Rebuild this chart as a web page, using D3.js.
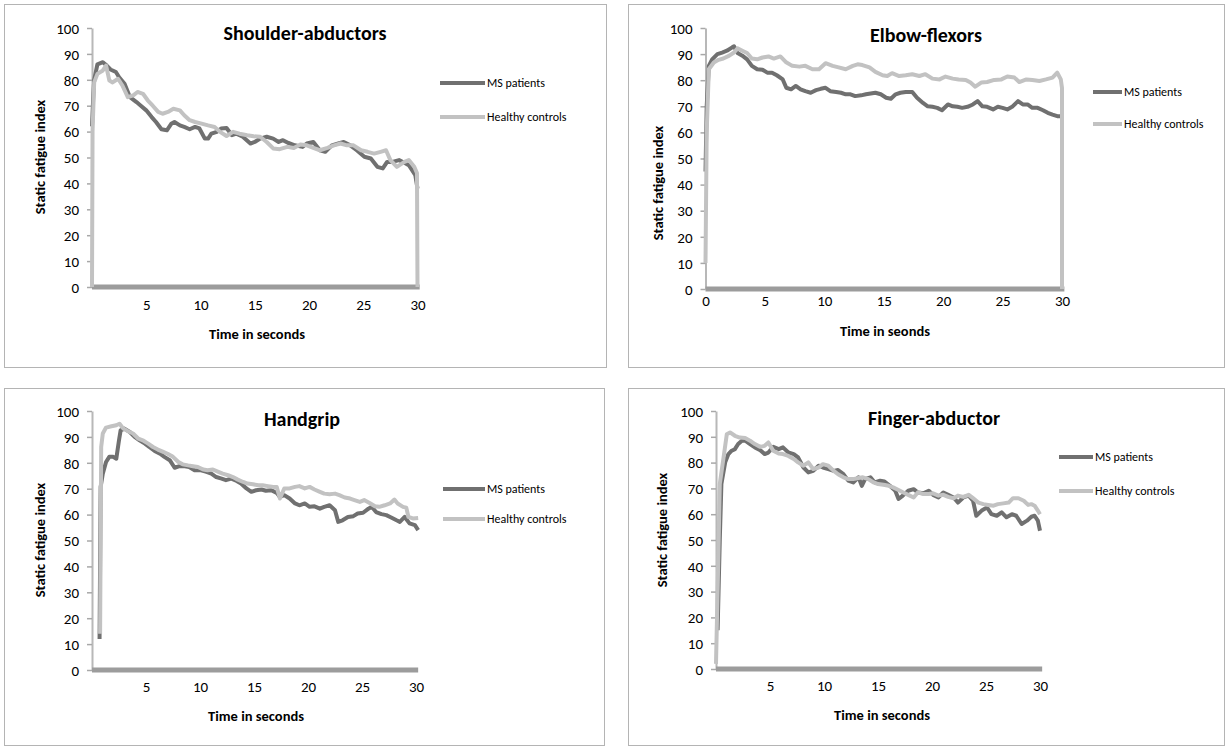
<!DOCTYPE html>
<html lang="en">
<head>
    <meta charset="UTF-8" />
    <title>Static fatigue index</title>
    <script src="https://cdn.jsdelivr.net/npm/d3@7"></script>
    <style>
        body { margin: 0; background: #ffffff; }
        text { font-family: Carlito, Calibri, "Open Sans", sans-serif; fill: #000; }
        .frame { fill: #ffffff; stroke: #b4b4b4; stroke-width: 1px; }
        .title { font-size: 20px; font-weight: bold; }
        .axis-title { font-size: 14.5px; font-weight: bold; }
        .tick text { font-size: 15px; }
        .legend text { font-size: 12px; }
        .yaxis path { stroke: #b8b8b8; stroke-width: 2px; }
        .yaxis line { stroke: #a8a8a8; stroke-width: 1.5px; }
        .series { fill: none; stroke-width: 4px; stroke-linejoin: round; }
    </style>
</head>
<body>
<svg id="chart" width="1226" height="747"></svg>
<script>
    // ---- data ----
    const seriesNames = ['MS patients', 'Healthy controls'];
    const seriesColors = ['#707070', '#c2c2c2'];
    const panelTitles = ['Shoulder-abductors', 'Elbow-flexors', 'Handgrip', 'Finger-abductor'];
    const xTitles = ['Time in seconds', 'Time in seonds', 'Time in seconds', 'Time in seconds'];
    const yTitle = 'Static fatigue index';
    const yTicks = [0, 10, 20, 30, 40, 50, 60, 70, 80, 90, 100];
    const xTicksNoZero = [5, 10, 15, 20, 25, 30];
    const xTicksZero = [0, 5, 10, 15, 20, 25, 30];

    const shoulderMS = [[0,62],[0.1,72],[0.2,80],[0.5,86],[1.0,86.8],[1.36,85.5],[1.7,84],[2.2,83],[2.5,81],[3.0,78.5],[3.5,73.3],[4.1,71.4],[4.5,70],[5.0,68.2],[5.5,65.6],[5.9,63.7],[6.4,60.9],[6.9,60.5],[7.3,63],[7.6,63.7],[8.1,62.4],[8.5,61.8],[9.0,60.9],[9.5,61.8],[9.9,61.2],[10.4,57.3],[10.7,57.3],[11.0,59.2],[11.5,59.9],[11.9,61.2],[12.4,61.4],[12.9,58.6],[13.3,59.2],[13.9,58],[14.6,55.4],[15.0,56],[15.5,57.3],[16.1,58],[16.7,57.3],[17.2,56],[17.6,56.7],[18.1,55.6],[18.7,54.7],[19.4,54.1],[19.8,55.4],[20.4,56],[21.0,52.8],[21.5,52.2],[22.1,54.7],[22.7,55.4],[23.2,56],[23.8,54.7],[24.4,52.8],[25.1,50.3],[25.7,49.6],[26.3,46.4],[26.8,45.8],[27.2,48.3],[27.7,48.3],[28.3,49],[28.8,48],[29.2,47],[29.5,45.1],[29.8,43.2],[30,38]];
    const shoulderHC = [[0,0],[0.05,60],[0.2,79],[0.5,82.3],[1.0,83.6],[1.3,85.5],[1.6,79.7],[1.9,79],[2.4,80.4],[2.8,77.8],[3.3,73.3],[3.8,74],[4.2,75.3],[4.7,74.6],[5.15,72],[5.6,70],[6.1,67.6],[6.5,66.9],[7.0,67.6],[7.5,68.8],[8.1,68.2],[8.5,66.3],[9.0,64.4],[9.5,63.7],[10.1,63.1],[10.7,62.4],[11.3,61.8],[11.8,59.9],[12.4,58.3],[13.0,59.9],[13.6,59.2],[14.3,58.6],[14.9,58.2],[15.5,58],[16.1,56],[16.7,53.5],[17.3,53.2],[18.0,54.1],[18.6,53.7],[19.2,55],[19.8,54.7],[20.4,53.7],[21.0,52.8],[21.7,53.7],[22.3,54.7],[22.9,55.4],[23.5,54.7],[24.1,54.7],[24.8,52.8],[25.4,52.2],[26.0,51.5],[26.6,52.2],[27.1,52.8],[27.5,49],[28.1,46.4],[28.8,48.3],[29.2,49],[29.7,46.4],[29.95,44],[30,0]];

    const elbowMS = [[0,45],[0.1,70],[0.28,85.5],[0.56,88],[1.0,90],[1.4,90.6],[1.8,91.3],[2.25,92.6],[2.4,93],[2.7,90.4],[3.1,89.4],[3.5,88],[3.9,85.5],[4.35,84.2],[4.8,84],[5.2,82.9],[5.6,82.9],[6.0,81.9],[6.5,80.3],[6.8,77.1],[7.2,76.5],[7.6,77.8],[8.0,76.5],[8.4,75.8],[8.85,75.2],[9.3,76.2],[9.7,76.7],[10.1,77.1],[10.5,75.8],[11.0,75.5],[11.4,75.2],[11.8,74.6],[12.2,74.6],[12.6,73.9],[13.1,74.2],[13.5,74.6],[13.9,74.9],[14.3,75.2],[14.75,74.6],[15.2,73.3],[15.6,72.9],[16.0,74.6],[16.4,75.2],[16.85,75.5],[17.4,75.5],[17.8,73.3],[18.3,71.3],[18.7,70],[19.1,69.8],[19.5,69.4],[19.9,68.5],[20.4,70.7],[20.8,70],[21.2,69.8],[21.6,69.4],[22.05,69.8],[22.5,70.7],[22.9,72],[23.3,70],[23.7,69.8],[24.2,68.8],[24.6,69.8],[25.0,69.4],[25.4,68.8],[25.8,69.8],[26.3,72],[26.7,70.7],[27.1,70.7],[27.5,69.4],[27.95,69.4],[28.4,68.5],[28.8,67.5],[29.2,66.8],[29.6,66.2],[29.9,66.2],[30,66]];
    const elbowHC = [[0,10],[0.1,60],[0.28,84.2],[0.7,86.8],[1.1,87.8],[1.5,88.3],[2.0,89.4],[2.4,90.6],[2.7,92.2],[3.1,91.3],[3.5,90.4],[3.9,88.3],[4.35,88],[4.8,88.7],[5.3,89.1],[5.75,88.3],[6.3,89.1],[6.75,87],[7.3,85.5],[7.9,85.2],[8.4,85.5],[9.0,84.2],[9.55,84.2],[10.1,86.5],[10.7,85.5],[11.2,84.9],[11.8,84.2],[12.4,85.5],[12.8,86.1],[13.2,85.8],[13.8,84.9],[14.3,83.2],[14.9,81.9],[15.3,81.6],[15.7,82.7],[16.3,81.6],[16.85,81.9],[17.4,82.3],[18.0,81.6],[18.5,82.3],[19.1,80.6],[19.7,80.3],[20.2,81.4],[20.8,80.6],[21.3,80.3],[21.9,80.1],[22.3,79.1],[22.7,77.5],[23.2,79.1],[23.7,79.3],[24.3,80.1],[24.9,80.3],[25.4,81.4],[26.0,81],[26.4,79.3],[27.0,80.3],[27.5,80.1],[28.1,79.7],[28.65,80.3],[29.2,81],[29.6,82.9],[29.9,80.3],[30,77],[30,0]];

    const handgripMS = [[0.7,12],[0.8,70.7],[1.0,75.8],[1.3,80.3],[1.6,82.3],[1.95,82.3],[2.25,81.6],[2.5,88.7],[2.65,92.5],[3.0,93.2],[3.5,91.9],[3.95,90],[4.4,88.7],[4.9,87.4],[5.3,86.1],[5.8,84.6],[6.3,83.5],[6.7,82.3],[7.2,81],[7.65,78.1],[8.1,78.7],[8.6,78.7],[9.0,78.4],[9.5,77.1],[10.1,77.1],[10.6,76.5],[11.05,75.8],[11.5,74.5],[12.0,73.9],[12.4,73.3],[12.9,73.9],[13.4,73],[13.8,72],[14.3,70.1],[14.75,68.8],[15.2,69.4],[15.7,69.7],[16.1,69.2],[16.6,69.4],[17.1,68.4],[17.4,66.8],[17.8,67.5],[18.3,66.2],[18.8,64.3],[19.2,63.6],[19.7,64.3],[20.15,63],[20.6,63.2],[21.1,62.3],[21.5,63],[22.0,63.6],[22.5,61.7],[22.8,57.2],[23.2,57.8],[23.7,59.1],[24.2,59.4],[24.6,60.4],[25.1,60.7],[25.6,62.3],[25.9,63],[26.3,61],[26.8,60.2],[27.25,59.8],[27.7,58.9],[28.2,57.8],[28.5,57.2],[28.95,59.1],[29.4,56.6],[29.9,55.9],[30.2,54]];
    const handgripHC = [[0.75,14],[0.85,86.1],[1.0,91.3],[1.3,93.6],[1.8,94.1],[2.25,94.5],[2.55,95.1],[2.9,93.2],[3.3,92.3],[3.8,91.3],[4.3,89.3],[4.7,88.7],[5.2,87.4],[5.65,86.1],[6.1,85.1],[6.6,84.2],[7.0,83.5],[7.5,82.3],[8.0,80.3],[8.4,79.4],[8.9,79],[9.35,78.7],[9.8,78.4],[10.3,77.4],[10.7,77.1],[11.2,77.4],[11.7,76.5],[12.1,75.8],[12.6,75.2],[13.05,74.5],[13.5,73.5],[14.0,72.6],[14.4,72],[14.9,71.7],[15.4,71.3],[15.8,71.3],[16.3,71],[16.8,70.7],[17.1,70.7],[17.4,66.2],[17.8,70.1],[18.3,70.1],[18.8,70.7],[19.2,71],[19.7,70.1],[20.15,70.7],[20.6,69.7],[21.1,68.8],[21.5,68.1],[22.0,67.9],[22.5,68.1],[22.9,67.5],[23.4,66.6],[23.9,66.2],[24.3,65.6],[24.8,64.9],[25.2,65.6],[25.7,64.5],[26.2,63.2],[26.6,63],[27.1,63.6],[27.6,64.3],[28.0,65.8],[28.3,64.3],[28.8,63],[29.1,62.7],[29.3,59.1],[29.7,58.5],[30.2,58.7]];

    const fingerMS = [[0.15,15],[0.35,50],[0.5,71.7],[0.85,80.1],[1.15,83.3],[1.45,84.6],[1.75,85.2],[2.05,87.2],[2.4,88.5],[2.7,88.5],[3.15,87.2],[3.6,85.9],[4.1,84.8],[4.5,83.3],[4.85,83.9],[5.3,86.1],[5.8,85.2],[6.2,85.9],[6.7,83.9],[7.2,83.3],[7.6,82],[8.1,78.1],[8.55,76.2],[9.0,76.8],[9.5,78.8],[9.9,78.1],[10.4,77.5],[10.9,76.8],[11.3,77.1],[11.8,75.5],[12.25,73],[12.7,72.3],[13.2,74.3],[13.5,71],[13.8,73.6],[14.3,74.3],[14.7,72.3],[15.2,73],[15.6,72.7],[16.1,71],[16.6,69.1],[16.9,65.9],[17.3,67.2],[17.8,69.1],[18.3,69.7],[18.7,68.4],[19.2,68.1],[19.7,69.1],[20.1,67.5],[20.6,66.5],[21.05,68.4],[21.5,67.5],[22.0,66.5],[22.4,64.5],[22.9,66.5],[23.4,67.2],[23.8,65.2],[24.1,59.4],[24.6,61.4],[25.1,62.6],[25.5,60],[26.0,59.4],[26.45,60.7],[26.9,58.8],[27.4,60],[27.8,59.4],[28.3,56.2],[28.8,57.5],[29.2,59],[29.5,59.4],[29.8,57.5],[30.0,53.6]];
    const fingerHC = [[0,2],[0.2,40],[0.35,71.7],[0.7,82],[1.0,91],[1.3,91.7],[1.75,90.4],[2.2,89.7],[2.7,89.5],[3.15,88.5],[3.6,87.2],[4.1,86.1],[4.5,86.5],[4.85,87.8],[5.3,84.6],[5.8,83.5],[6.2,83.3],[6.7,82.6],[7.2,81.4],[7.6,80.1],[8.1,78.8],[8.55,80.1],[9.0,77.5],[9.5,78.1],[9.9,79.4],[10.4,78.8],[10.9,76.8],[11.3,75.5],[11.8,74.3],[12.25,73.6],[12.7,73.6],[13.2,74],[13.6,74.3],[14.1,73.6],[14.6,72.3],[15.0,71.7],[15.5,71.4],[16.0,71],[16.4,70.4],[16.9,69.4],[17.3,68.5],[17.8,67.5],[18.3,66.5],[18.7,68.5],[19.2,67.8],[19.7,67.8],[20.1,68.1],[20.6,67.2],[21.05,67.5],[21.5,66.7],[22.0,66.2],[22.4,67.2],[22.9,66.7],[23.4,67.5],[23.8,66.2],[24.3,64.5],[24.75,63.9],[25.2,63.6],[25.7,63.3],[26.1,63.9],[26.6,64.2],[27.1,64.5],[27.5,66.2],[28.0,66.2],[28.5,65.2],[28.9,63.6],[29.2,63.9],[29.5,63.3],[29.8,61.4],[30.0,60]];

    // ---- layout of the four panels (pixels) ----
    const panels = [
        { box: [4, 4, 602, 363], x0: 92, x30: 417.5, y0: 287, y100: 28, tickPad: 8, xLabDy: 22,
          titleXY: [305, 33], legX: 440, legLen: 45, legY: [83, 117], xTitleXY: [257, 334], yTitleXY: [40, 157],
          xTicks: xTicksNoZero, series: [shoulderMS, shoulderHC] },
        { box: [628, 4, 596, 363], x0: 705.5, x30: 1062, y0: 289, y100: 28, tickPad: 8, xLabDy: 16,
          titleXY: [926, 35], legX: 1093, legLen: 29, legY: [92, 124], xTitleXY: [885, 331], yTitleXY: [658, 183],
          xTicks: xTicksZero, series: [elbowMS, elbowHC] },
        { box: [4, 388, 600, 357], x0: 92, x30: 416, y0: 670, y100: 411, tickPad: 8, xLabDy: 21,
          titleXY: [302, 419], legX: 443, legLen: 42, legY: [489, 519], xTitleXY: [256, 716], yTitleXY: [40, 540],
          xTicks: xTicksNoZero, series: [handgripMS, handgripHC] },
        { box: [628, 388, 596, 357], x0: 716, x30: 1040, y0: 669, y100: 411, tickPad: 8, xLabDy: 21,
          titleXY: [934, 418], legX: 1059, legLen: 34, legY: [457, 491], xTitleXY: [882, 715], yTitleXY: [662, 530],
          xTicks: xTicksNoZero, series: [fingerMS, fingerHC] }
    ];

    const svg = d3.select('#chart');

    panels.forEach((p, i) => {
        const g = svg.append('g');

        g.append('rect')
            .attr('class', 'frame')
            .attr('x', p.box[0] + 0.5)
            .attr('y', p.box[1] + 0.5)
            .attr('width', p.box[2])
            .attr('height', p.box[3]);

        const x = d3.scaleLinear().domain([0, 30]).range([p.x0, p.x30]);
        const y = d3.scaleLinear().domain([0, 100]).range([p.y0, p.y100]);

        // y axis
        g.append('g')
            .attr('class', 'yaxis')
            .attr('transform', `translate(${p.x0},0)`)
            .call(d3.axisLeft(y).tickValues(yTicks).tickSize(5).tickSizeOuter(0).tickPadding(p.tickPad))
            .call(a => a.selectAll('.tick text').attr('dy', '0.35em'));

        // x axis: labels only, the base line is drawn as a thick bar
        g.append('g')
            .attr('transform', `translate(0,${p.y0})`)
            .call(d3.axisBottom(x).tickValues(p.xTicks).tickSize(0).tickPadding(p.xLabDy - 10))
            .call(a => a.select('.domain').remove());

        g.append('line')
            .attr('x1', x(0)).attr('x2', x(30.2))
            .attr('y1', y(0)).attr('y2', y(0))
            .attr('stroke', '#9c9c9c')
            .attr('stroke-width', 5);

        // series
        const line = d3.line().x(d => x(d[0])).y(d => y(d[1]));
        p.series.forEach((s, k) => {
            g.append('path')
                .datum(s)
                .attr('class', 'series')
                .attr('stroke', seriesColors[k])
                .attr('d', line);
        });

        // titles
        g.append('text')
            .attr('class', 'title')
            .attr('x', p.titleXY[0]).attr('y', p.titleXY[1])
            .attr('text-anchor', 'middle').attr('dy', '0.35em')
            .text(panelTitles[i]);

        g.append('text')
            .attr('class', 'axis-title')
            .attr('x', p.xTitleXY[0]).attr('y', p.xTitleXY[1])
            .attr('text-anchor', 'middle').attr('dy', '0.35em')
            .text(xTitles[i]);

        g.append('text')
            .attr('class', 'axis-title')
            .attr('transform', `translate(${p.yTitleXY[0]},${p.yTitleXY[1]}) rotate(-90)`)
            .attr('text-anchor', 'middle').attr('dy', '0.35em')
            .text(yTitle);

        // legend
        const leg = g.append('g').attr('class', 'legend');
        seriesNames.forEach((name, k) => {
            leg.append('line')
                .attr('x1', p.legX).attr('x2', p.legX + p.legLen)
                .attr('y1', p.legY[k]).attr('y2', p.legY[k])
                .attr('stroke', seriesColors[k])
                .attr('stroke-width', 4);
            leg.append('text')
                .attr('x', p.legX + p.legLen + 2).attr('y', p.legY[k])
                .attr('dy', '0.35em')
                .text(name);
        });
    });
</script>
</body>
</html>
